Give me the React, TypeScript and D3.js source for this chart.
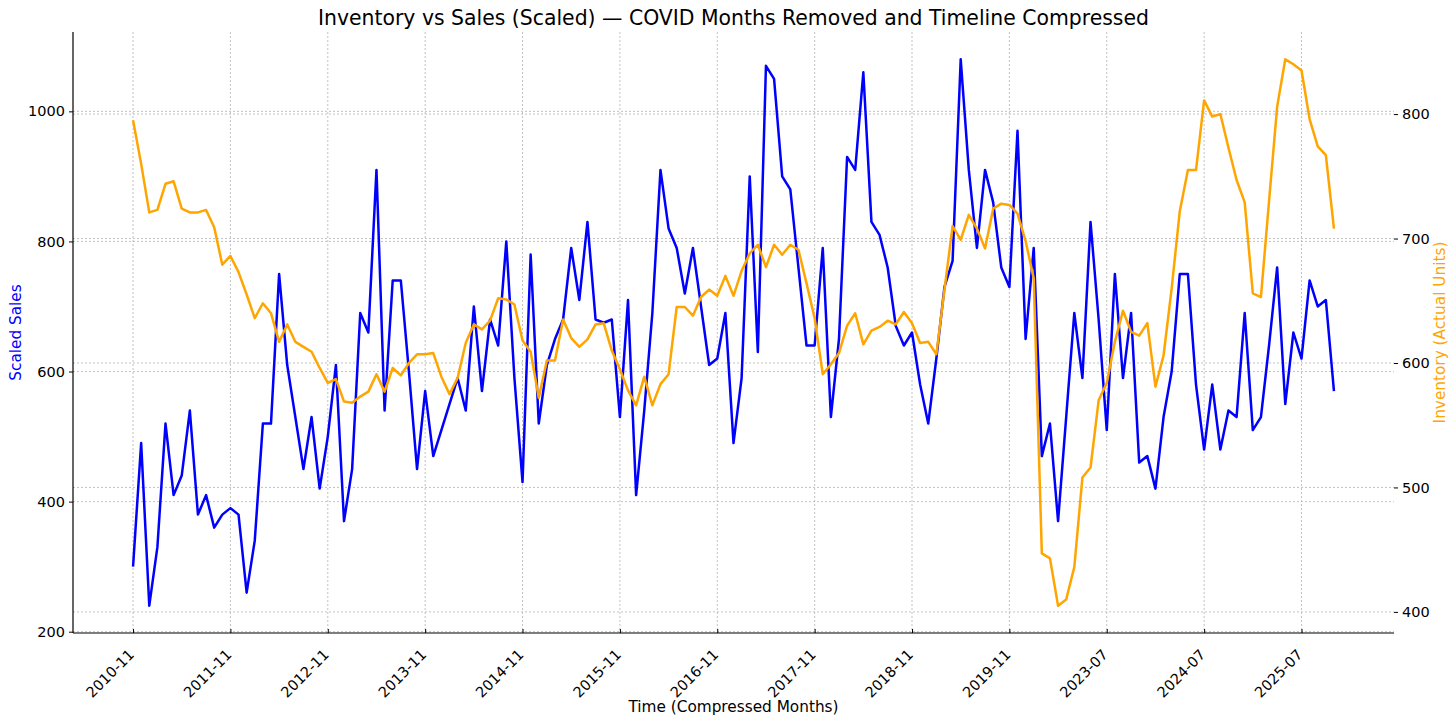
import { useEffect, useRef } from 'react';
import * as d3 from 'd3';

// Ventes mises à l'échelle (une valeur par mois compressé)
const sales = [
  300, 490, 240, 330, 520, 410, 440, 540, 380, 410,
  360, 380, 390, 380, 260, 340, 520, 520, 750, 610,
  530, 450, 530, 420, 500, 610, 370, 450, 690, 660,
  910, 540, 740, 740, 600, 450, 570, 470, 510, 550,
  590, 540, 700, 570, 680, 640, 800, 590, 430, 780,
  520, 610, 650, 680, 790, 710, 830, 680, 675, 680,
  530, 710, 410, 540, 690, 910, 820, 790, 720, 790,
  700, 610, 620, 690, 490, 590, 900, 630, 1070, 1050,
  900, 880, 760, 640, 640, 790, 530, 650, 930, 910,
  1060, 830, 810, 760, 670, 640, 660, 580, 520, 620,
  730, 770, 1080, 910, 790, 910, 860, 760, 730, 970,
  650, 790, 470, 520, 370, 530, 690, 590, 830, 680,
  510, 750, 590, 690, 460, 470, 420, 530, 600, 750,
  750, 580, 480, 580, 480, 540, 530, 690, 510, 530,
  640, 760, 550, 660, 620, 740, 700, 710, 570
];

// Inventaire (unités réelles)
const inventory = [
  795, 760, 721, 723, 744, 746, 724, 721, 721, 723,
  709, 679, 686, 673, 655, 636, 648, 640, 617, 631,
  617, 613, 609, 596, 584, 587, 569, 568, 573, 577,
  591, 577, 596, 590, 600, 607, 607, 608, 589, 575,
  588, 616, 631, 627, 634, 652, 651, 647, 618, 609,
  572, 602, 602, 635, 620, 613, 619, 631, 632, 610,
  595, 578, 566, 589, 566, 583, 591, 645, 645, 638,
  653, 659, 654, 670, 654, 674, 688, 695, 677, 695,
  687, 695, 691, 664, 636, 591, 599, 608, 630, 640,
  615, 626, 629, 634, 631, 641, 632, 616, 617, 607,
  659, 710, 699, 719, 708, 692, 724, 728, 727, 720,
  698, 668, 447, 443, 405, 410, 436, 508, 516, 570,
  584, 617, 642, 625, 622, 632, 581, 606, 660, 722,
  755, 755, 811, 798, 800, 773, 747, 729, 656, 653,
  730, 806, 844, 840, 835, 796, 774, 767, 708
];

// Étiquettes de l'axe X (un tick tous les 12 mois compressés)
const tickLabels = [
  '2010-11', '2011-11', '2012-11', '2013-11', '2014-11', '2015-11',
  '2016-11', '2017-11', '2018-11', '2019-11', '2023-07', '2024-07', '2025-07'
];
const salesTicks = [200, 400, 600, 800, 1000];
const inventoryTicks = [400, 500, 600, 700, 800];

const FONT = 'DejaVu Sans, sans-serif';

export default function App() {
  const chartRef = useRef<SVGSVGElement>(null);

  useEffect(() => {
    document.body.style.margin = '0';
    if (!chartRef.current) return;
    const svg = d3.select(chartRef.current);
    svg.selectAll('*').remove();

    const width = 1456;
    const height = 723;
    const margin = { top: 32, right: 62, bottom: 90, left: 73 };
    const x0 = margin.left;
    const x1 = width - margin.right;
    const y0 = height - margin.bottom;
    const y1 = margin.top;

    const n = sales.length;
    const pad = (n - 1) * 0.05;
    const x = d3.scaleLinear().domain([-pad, n - 1 + pad]).range([x0, x1]);

    const sExt = d3.extent(sales) as [number, number];
    const sPad = (sExt[1] - sExt[0]) * 0.05;
    const yL = d3.scaleLinear().domain([sExt[0] - sPad, sExt[1] + sPad]).range([y0, y1]);

    const iExt = d3.extent(inventory) as [number, number];
    const iPad = (iExt[1] - iExt[0]) * 0.05;
    const yR = d3.scaleLinear().domain([iExt[0] - iPad, iExt[1] + iPad]).range([y0, y1]);

    const tickIdx = tickLabels.map((_, k) => k * 12);

    // Grilles
    const grid = svg.append('g')
      .attr('stroke', '#b0b0b0')
      .attr('stroke-width', 0.9)
      .attr('stroke-dasharray', '2,2')
      .attr('opacity', 0.85);
    grid.selectAll('.vx')
      .data(tickIdx)
      .enter()
      .append('line')
      .attr('x1', d => x(d)).attr('x2', d => x(d))
      .attr('y1', y1).attr('y2', y0);
    grid.selectAll('.hl')
      .data(salesTicks)
      .enter()
      .append('line')
      .attr('x1', x0).attr('x2', x1)
      .attr('y1', d => yL(d)).attr('y2', d => yL(d));
    grid.selectAll('.hr')
      .data(inventoryTicks)
      .enter()
      .append('line')
      .attr('x1', x0).attr('x2', x1)
      .attr('y1', d => yR(d)).attr('y2', d => yR(d));

    // Courbes
    const lineSales = d3.line<number>().x((_, i) => x(i)).y(d => yL(d));
    const lineInv = d3.line<number>().x((_, i) => x(i)).y(d => yR(d));

    svg.append('path')
      .datum(sales)
      .attr('d', lineSales)
      .attr('fill', 'none')
      .attr('stroke', '#0000ff')
      .attr('stroke-width', 2.5)
      .attr('stroke-linejoin', 'round');

    svg.append('path')
      .datum(inventory)
      .attr('d', lineInv)
      .attr('fill', 'none')
      .attr('stroke', '#ffa500')
      .attr('stroke-width', 2.5)
      .attr('stroke-linejoin', 'round');

    // Axe gauche
    const left = svg.append('g')
      .attr('transform', `translate(${x0},0)`)
      .call(d3.axisLeft(yL).tickValues(salesTicks).tickFormat(d3.format('d')).tickSize(4).tickPadding(4));
    left.select('.domain').remove();
    left.selectAll('text').style('font-size', '14.5px').style('font-family', FONT).attr('fill', '#000');

    // Axe droit (sans ligne)
    const right = svg.append('g')
      .attr('transform', `translate(${x1},0)`)
      .call(d3.axisRight(yR).tickValues(inventoryTicks).tickFormat(d3.format('d')).tickSize(4).tickPadding(4));
    right.select('.domain').remove();
    right.selectAll('text').style('font-size', '14.5px').style('font-family', FONT).attr('fill', '#000');

    // Axe bas
    const bottom = svg.append('g')
      .attr('transform', `translate(0,${y0})`)
      .call(
        d3.axisBottom(x)
          .tickValues(tickIdx)
          .tickFormat((_, k) => tickLabels[k])
          .tickSize(-4)
      );
    bottom.select('.domain').remove();
    bottom.selectAll('text')
      .attr('transform', 'translate(-2,19) rotate(-45)')
      .attr('text-anchor', 'end')
      .attr('dy', '0.35em')
      .attr('y', 0)
      .style('font-size', '14.5px')
      .style('font-family', FONT)
      .attr('fill', '#000');

    // Lignes d'axes
    svg.append('line')
      .attr('x1', x0).attr('x2', x0).attr('y1', y1).attr('y2', y0)
      .attr('stroke', '#000').attr('stroke-width', 1.2);
    svg.append('line')
      .attr('x1', x0).attr('x2', x1).attr('y1', y0).attr('y2', y0)
      .attr('stroke', '#000').attr('stroke-width', 1.2);

    // Titres
    svg.append('text')
      .attr('x', (x0 + x1) / 2)
      .attr('y', 25)
      .attr('text-anchor', 'middle')
      .style('font-family', FONT)
      .style('font-size', '20.4px')
      .text('Inventory vs Sales (Scaled) — COVID Months Removed and Timeline Compressed');

    svg.append('text')
      .attr('x', (x0 + x1) / 2)
      .attr('y', 712)
      .attr('text-anchor', 'middle')
      .style('font-family', FONT)
      .style('font-size', '15.3px')
      .text('Time (Compressed Months)');

    svg.append('text')
      .attr('transform', `translate(21,${(y0 + y1) / 2}) rotate(-90)`)
      .attr('text-anchor', 'middle')
      .attr('fill', '#0000ff')
      .style('font-family', FONT)
      .style('font-size', '15.3px')
      .text('Scaled Sales');

    svg.append('text')
      .attr('transform', `translate(1445,${(y0 + y1) / 2}) rotate(-90)`)
      .attr('text-anchor', 'middle')
      .attr('fill', '#ffa500')
      .style('font-family', FONT)
      .style('font-size', '15.3px')
      .text('Inventory (Actual Units)');
  }, []);

  return (
    <svg ref={chartRef} width={1456} height={723} style={{ display: 'block', background: '#fff' }}></svg>
  );
}
